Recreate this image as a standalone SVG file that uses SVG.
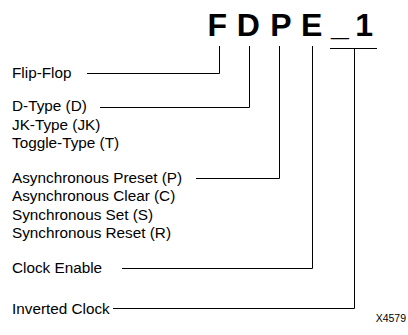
<svg xmlns="http://www.w3.org/2000/svg" width="408" height="335" viewBox="0 0 408 335">
  <style>
    .title { font-family: "Liberation Sans", Arial, sans-serif; font-size: 32px; font-weight: bold; fill: #000; text-anchor: middle; }
    .label { font-family: "Liberation Sans", Arial, sans-serif; font-size: 15.3px; fill: #000; }
    .code { font-family: "Liberation Sans", Arial, sans-serif; font-size: 10.5px; fill: #000; text-anchor: end; }
    .wire { fill: none; stroke: #000; stroke-width: 1; }
  </style>
  <rect width="408" height="335" fill="#fff"/>

  <!-- Part name, one letter per field -->
  <g id="name">
    <text class="title" x="217.3" y="36">F</text>
    <text class="title" x="248.3" y="36">D</text>
    <text class="title" x="280.8" y="36">P</text>
    <text class="title" x="311.7" y="36">E</text>
    <text class="title" x="340" y="35">_</text>
    <text class="title" x="364.2" y="36">1</text>
  </g>

  <g id="flip-flop">
    <text class="label" x="12" y="78">Flip-Flop</text>
  </g>
  <g id="type">
    <text class="label" x="12" y="111">D-Type (D)</text>
    <text class="label" x="12" y="129.5">JK-Type (JK)</text>
    <text class="label" x="12" y="148">Toggle-Type (T)</text>
  </g>
  <g id="set-reset">
    <text class="label" x="12" y="182.5">Asynchronous Preset (P)</text>
    <text class="label" x="12" y="201">Asynchronous Clear (C)</text>
    <text class="label" x="12" y="219.5">Synchronous Set (S)</text>
    <text class="label" x="12" y="238">Synchronous Reset (R)</text>
  </g>
  <g id="clock-enable">
    <text class="label" x="12" y="273">Clock Enable</text>
  </g>
  <g id="inverted-clock">
    <text class="label" x="12" y="313.5">Inverted Clock</text>
  </g>
  <g id="figure-id">
    <text class="code" x="406" y="321.5">X4579</text>
  </g>

  <g id="connectors">
    <polyline class="wire" points="87,73.5 219.5,73.5 219.5,46"/>
    <polyline class="wire" points="100,107.5 249.5,107.5 249.5,46"/>
    <polyline class="wire" points="196,178.5 279.5,178.5 279.5,46"/>
    <polyline class="wire" points="122,268.5 312.5,268.5 312.5,46"/>
    <line class="wire" x1="330" y1="48.5" x2="377" y2="48.5"/>
    <polyline class="wire" points="113,308.5 354.5,308.5 354.5,48.5"/>
  </g>
</svg>
